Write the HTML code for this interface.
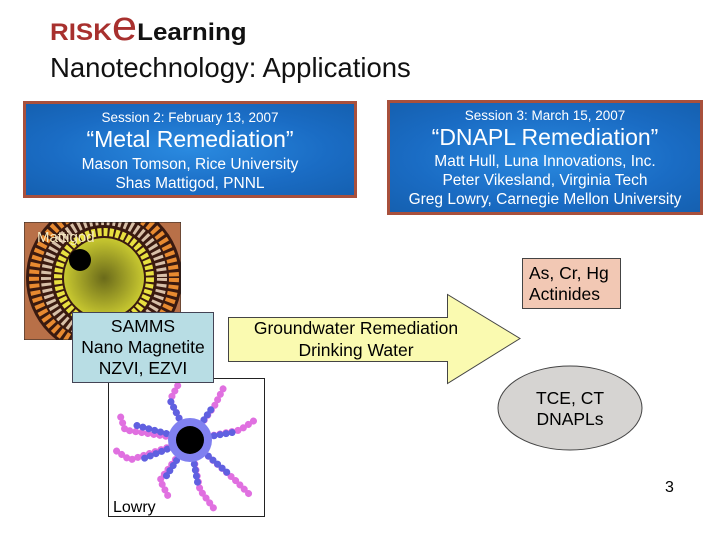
<!DOCTYPE html>
<html><head><meta charset="utf-8"><style>
body{margin:0;width:720px;height:540px;background:#fff;position:relative;overflow:hidden;font-family:"Liberation Sans",sans-serif}
.a{position:absolute}
.blue{position:absolute;border:3px solid #a8503c;background:radial-gradient(ellipse at center,#2a8ae0 0%,#1a6cc4 60%,#1560b0 100%);color:#fff;text-align:center;box-sizing:border-box;white-space:nowrap}
</style></head><body>
<div class="a" style="left:50px;top:19px;font-size:24px;font-weight:bold;transform:scaleX(1.08);transform-origin:left"><span style="color:#a8302e">RISK</span><span style="font-size:42px;color:#a8302e;font-weight:normal;line-height:0">e</span><span style="color:#111">Learning</span></div>
<div class="a" style="left:50px;top:52px;font-size:27.5px;color:#111;white-space:nowrap">Nanotechnology: Applications</div>

<div class="blue" style="left:23px;top:101px;width:334px;height:97px">
<div style="font-size:13.5px;margin-top:6px">Session 2: February 13, 2007</div>
<div style="font-size:23px;margin-top:1px">“Metal Remediation”</div>
<div style="font-size:15.5px;margin-top:2px;line-height:19px">Mason Tomson, Rice University<br>Shas Mattigod, PNNL</div></div>
<div class="blue" style="left:387px;top:100px;width:316px;height:115px">
<div style="font-size:13.5px;margin-top:5px">Session 3: March 15, 2007</div>
<div style="font-size:23px;margin-top:1px">“DNAPL Remediation”</div>
<div style="font-size:15.5px;margin-top:1px;line-height:19px">Matt Hull, Luna Innovations, Inc.<br>Peter Vikesland, Virginia Tech<br>Greg Lowry, Carnegie Mellon University</div></div>

<svg class="a" style="left:0;top:0" width="720" height="540">
<defs><clipPath id="c1"><rect x="24" y="222" width="157" height="118"/></clipPath>
<radialGradient id="g1"><stop offset="0" stop-color="#6a6a1a"/><stop offset="1" stop-color="#c8c830"/></radialGradient></defs>
<g clip-path="url(#c1)">
<rect x="24" y="222" width="157" height="118" fill="#b87048"/>
<circle cx="104" cy="278" r="78" fill="#3a1a10"/>
<circle cx="104" cy="278" r="70" fill="none" stroke="#e88a30" stroke-width="10" stroke-dasharray="4 3"/>
<circle cx="104" cy="278" r="58" fill="none" stroke="#d8c0a8" stroke-width="10" stroke-dasharray="3 3"/>
<circle cx="104" cy="278" r="46" fill="none" stroke="#e8e040" stroke-width="8" stroke-dasharray="4 2"/>
<circle cx="104" cy="278" r="40" fill="url(#g1)"/>
<circle cx="80" cy="260" r="11" fill="#000"/>
<rect x="24" y="222" width="157" height="118" fill="none" stroke="#222" stroke-width="1"/>
</g>
<text x="37" y="242" font-size="15" fill="#f4e8c0" font-family="Liberation Sans">Mattigod</text>

<rect x="108.5" y="378.5" width="156" height="138" fill="#fff" stroke="#222"/>
<g stroke-width="7" fill="none" stroke-linecap="round" stroke-dasharray="0.1 6">
<path d="M190 440 L170 400 L178 385" stroke="#e070e0"/>
<path d="M190 440 L125 430 L120 415" stroke="#e070e0"/>
<path d="M190 440 L130 460 L115 450" stroke="#e070e0"/>
<path d="M190 440 L160 480 L170 500" stroke="#e070e0"/>
<path d="M190 440 L200 490 L215 510" stroke="#e070e0"/>
<path d="M190 440 L235 480 L250 495" stroke="#e070e0"/>
<path d="M190 440 L240 430 L255 420" stroke="#e070e0"/>
<path d="M190 440 L215 405 L225 385" stroke="#e070e0"/>
<path d="M190 440 L170 400" stroke="#6060e0"/>
<path d="M190 440 L135 425" stroke="#6060e0"/>
<path d="M190 440 L140 460" stroke="#6060e0"/>
<path d="M190 440 L165 478" stroke="#6060e0"/>
<path d="M190 440 L198 485" stroke="#6060e0"/>
<path d="M190 440 L230 475" stroke="#6060e0"/>
<path d="M190 440 L235 432" stroke="#6060e0"/>
<path d="M190 440 L212 408" stroke="#6060e0"/>
</g>
<circle cx="190" cy="440" r="22" fill="#8080f0"/>
<circle cx="190" cy="440" r="14" fill="#000"/>
<text x="113" y="512" font-size="16" fill="#000" font-family="Liberation Sans">Lowry</text>

<polygon points="228.5,317.5 447.5,317.5 447.5,294.5 520,338.5 447.5,383.5 447.5,361.5 228.5,361.5" fill="#fafab0" stroke="#444"/>
<text x="356" y="334" font-size="17.5" text-anchor="middle" font-family="Liberation Sans">Groundwater Remediation</text>
<text x="356" y="356" font-size="17.5" text-anchor="middle" font-family="Liberation Sans">Drinking Water</text>

<rect x="522.5" y="258.5" width="98" height="50" fill="#f2c8b4" stroke="#444"/>
<text x="529" y="279" font-size="17.5" font-family="Liberation Sans">As, Cr, Hg</text>
<text x="529" y="300" font-size="17.5" font-family="Liberation Sans">Actinides</text>

<ellipse cx="570" cy="408" rx="72" ry="42" fill="#d6d4d2" stroke="#444"/>
<text x="570" y="404" font-size="17.5" text-anchor="middle" font-family="Liberation Sans">TCE, CT</text>
<text x="570" y="425" font-size="17.5" text-anchor="middle" font-family="Liberation Sans">DNAPLs</text>

<text x="665" y="492" font-size="16" font-family="Liberation Sans">3</text>
</svg>
<div class="a" style="left:72px;top:312px;width:142px;height:71px;box-sizing:border-box;background:#b8dde4;border:1px solid #445;text-align:center;font-size:17.5px;line-height:21px;padding-top:3px;white-space:nowrap">SAMMS<br>Nano Magnetite<br>NZVI, EZVI</div>
</body></html>
